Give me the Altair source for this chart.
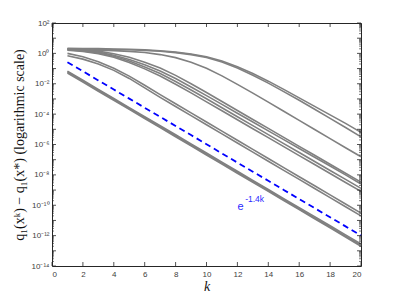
import altair as alt
import pandas as pd

k = list(range(1, 21))

# log10 of q1(x^k) - q1(x*) for each run
A = [0.33, 0.32, 0.31, 0.29, 0.27, 0.23, 0.17, 0.08, -0.04, -0.22, -0.50, -0.88, -1.33, -1.83, -2.37, -2.93, -3.49, -4.05, -4.61, -5.20]
B = [0.30, 0.29, 0.28, 0.26, 0.24, 0.20, 0.14, 0.05, -0.08, -0.27, -0.57, -0.97, -1.44, -1.96, -2.52, -3.09, -3.68, -4.28, -4.88, -5.50]
C = [0.24, 0.23, 0.21, 0.18, 0.13, 0.06, -0.08, -0.28, -0.58, -0.98, -1.48, -2.04, -2.62, -3.21, -3.81, -4.41, -5.01, -5.61, -6.21, -6.81]
D = [0.30, 0.25, 0.15, -0.02, -0.26, -0.58, -0.96, -1.45, -2.00, -2.58, -3.17, -3.76, -4.35, -4.94, -5.53, -6.12, -6.71, -7.30, -7.89, -8.48]
E = [0.27, 0.20, 0.08, -0.12, -0.40, -0.75, -1.16, -1.66, -2.21, -2.78, -3.36, -3.94, -4.52, -5.10, -5.68, -6.26, -6.84, -7.42, -8.00, -8.60]
F = [0.24, 0.16, 0.02, -0.19, -0.50, -0.89, -1.33, -1.85, -2.41, -2.99, -3.58, -4.17, -4.76, -5.35, -5.94, -6.53, -7.12, -7.71, -8.30, -8.89]
G = [0.21, 0.12, -0.02, -0.26, -0.60, -1.02, -1.49, -2.03, -2.60, -3.19, -3.78, -4.37, -4.96, -5.55, -6.14, -6.73, -7.32, -7.91, -8.50, -9.09]
H = [0.00, -0.22, -0.55, -0.98, -1.50, -2.10, -2.72, -3.32, -3.92, -4.52, -5.12, -5.72, -6.32, -6.92, -7.52, -8.12, -8.72, -9.32, -9.92, -10.52]
I = [-0.16, -0.38, -0.70, -1.12, -1.65, -2.27, -2.90, -3.50, -4.10, -4.70, -5.30, -5.90, -6.50, -7.10, -7.70, -8.30, -8.90, -9.50, -10.10, -10.70]
T1 = [-1.17, -1.77, -2.37, -2.97, -3.57, -4.17, -4.76, -5.36, -5.96, -6.56, -7.16, -7.76, -8.36, -8.96, -9.56, -10.16, -10.75, -11.35, -11.95, -12.55]
T2 = [-1.23, -1.83, -2.43, -3.03, -3.63, -4.23, -4.83, -5.43, -6.03, -6.63, -7.23, -7.83, -8.43, -9.03, -9.63, -10.23, -10.83, -11.43, -12.03, -12.63]
T3 = [-1.29, -1.89, -2.49, -3.09, -3.69, -4.29, -4.89, -5.49, -6.09, -6.69, -7.29, -7.89, -8.49, -9.09, -9.69, -10.29, -10.89, -11.49, -12.09, -12.70]
REF = [-0.58, -1.18, -1.78, -2.38, -2.98, -3.58, -4.18, -4.78, -5.38, -5.98, -6.59, -7.19, -7.79, -8.39, -8.99, -9.59, -10.19, -10.79, -11.39, -11.99]

x_ticks = list(range(0, 21, 2))
y_label_exps = list(range(-14, 3, 2))
ref_label = "e"
ref_label_sup = "-1.4k"

series = {"T1": T1, "T2": T2, "T3": T3, "A": A, "B": B, "C": C, "D": D,
          "E": E, "F": F, "G": G, "H": H, "I": I}
rows = []
for name, vals in series.items():
    for kk, v in zip(k, vals):
        rows.append({"run": name, "k": kk, "lv": v})
gray_df = pd.DataFrame(rows)
ref_df = pd.DataFrame({"k": k, "lv": REF})

W, H_ = 309, 243
AX = "#262626"

xscale = alt.Scale(domain=[0, 20], nice=False)
yscale = alt.Scale(type="log", domain=[1e-14, 1e2], nice=False)

sup = {"2": "10²", "0": "10⁰", "-2": "10⁻²", "-4": "10⁻⁴", "-6": "10⁻⁶",
       "-8": "10⁻⁸", "-10": "10⁻¹⁰", "-12": "10⁻¹²", "-14": "10⁻¹⁴"}
lab_obj = "{" + ",".join(f"'{kk}':'{vv}'" for kk, vv in sup.items()) + "}"
label_expr = lab_obj + "['' + round(log(datum.value)/LN10)]"

XAX = alt.Axis(
    values=x_ticks, title="k", grid=False, ticks=False, domain=False,
    labelFont="Liberation Sans", labelFontSize=8, labelColor="#404040",
    labelPadding=4, titleFont="Liberation Serif", titleFontStyle="italic",
    titleFontWeight="normal", titleFontSize=14, titleColor="#111111", titlePadding=1)
YAX = alt.Axis(
    values=[10.0 ** e for e in y_label_exps], labelExpr=label_expr,
    title="q₁(xᵏ) − q₁(x*) (logarithmic scale)", grid=False, ticks=False, domain=False,
    labelFont="Liberation Sans", labelFontSize=8, labelColor="#404040", labelPadding=3,
    titleFont="Liberation Serif", titleFontWeight="normal", titleFontSize=14,
    titleColor="#111111", titlePadding=5)


def X():
    return alt.X("k:Q", scale=xscale, axis=XAX, title="k")


def Y():
    return alt.Y("val:Q", scale=yscale, axis=YAX, title="q₁(xᵏ) − q₁(x*) (logarithmic scale)")


gray = alt.Chart(gray_df).transform_calculate(
    val="pow(10, datum.lv)"
).mark_line(color="#808080", strokeWidth=1.6).encode(x=X(), y=Y(), detail="run:N")

ref = alt.Chart(ref_df).transform_calculate(
    val="pow(10, datum.lv)"
).mark_line(color="#0000ff", strokeWidth=1.8, strokeDash=[6, 4]).encode(x=X(), y=Y())

# inward ticks (MATLAB box style)
xt_df = pd.DataFrame({"k": x_ticks})
xt_bottom = alt.Chart(xt_df).mark_rule(color=AX, strokeWidth=0.8).encode(
    x=X(), y=alt.value(H_), y2=alt.value(H_ - 4))
xt_top = alt.Chart(xt_df).mark_rule(color=AX, strokeWidth=0.8).encode(
    x=X(), y=alt.value(0), y2=alt.value(4))

major = [10.0 ** e for e in range(-14, 3)]
minor = [m * 10.0 ** e for e in range(-14, 2) for m in range(2, 10)]
yt_major = pd.DataFrame({"val": major})
yt_minor = pd.DataFrame({"val": minor})
yl_major = alt.Chart(yt_major).mark_rule(color=AX, strokeWidth=0.8).encode(
    y=Y(), x=alt.value(0), x2=alt.value(4))
yr_major = alt.Chart(yt_major).mark_rule(color=AX, strokeWidth=0.8).encode(
    y=Y(), x=alt.value(W), x2=alt.value(W - 4))
yl_minor = alt.Chart(yt_minor).mark_rule(color=AX, strokeWidth=0.6).encode(
    y=Y(), x=alt.value(0), x2=alt.value(2))
yr_minor = alt.Chart(yt_minor).mark_rule(color=AX, strokeWidth=0.6).encode(
    y=Y(), x=alt.value(W), x2=alt.value(W - 2))

lab_df = pd.DataFrame({"k": [12.0], "val": [10 ** -10.1], "txt": [ref_label]})
sup_df = pd.DataFrame({"k": [12.5], "val": [10 ** -9.6], "txt": [ref_label_sup]})
lab = alt.Chart(lab_df).mark_text(align="left", baseline="middle", color="#2a2aff",
                                  font="Liberation Sans", fontSize=11).encode(
    x=X(), y=Y(), text="txt:N")
lab_sup = alt.Chart(sup_df).mark_text(align="left", baseline="middle", color="#2a2aff",
                                      font="Liberation Sans", fontSize=8.5).encode(
    x=X(), y=Y(), text="txt:N")

chart = alt.layer(gray, ref, lab, lab_sup, xt_bottom, xt_top, yl_major, yr_major,
                  yl_minor, yr_minor).properties(
    width=W, height=H_,
    autosize=alt.AutoSizeParams(type="none"),
    padding={"left": 44, "top": 15, "right": 30, "bottom": 32},
    background="white",
).configure_view(stroke=AX, strokeWidth=1)

chart.save("out.html", embed_options={"renderer": "svg", "actions": False})
